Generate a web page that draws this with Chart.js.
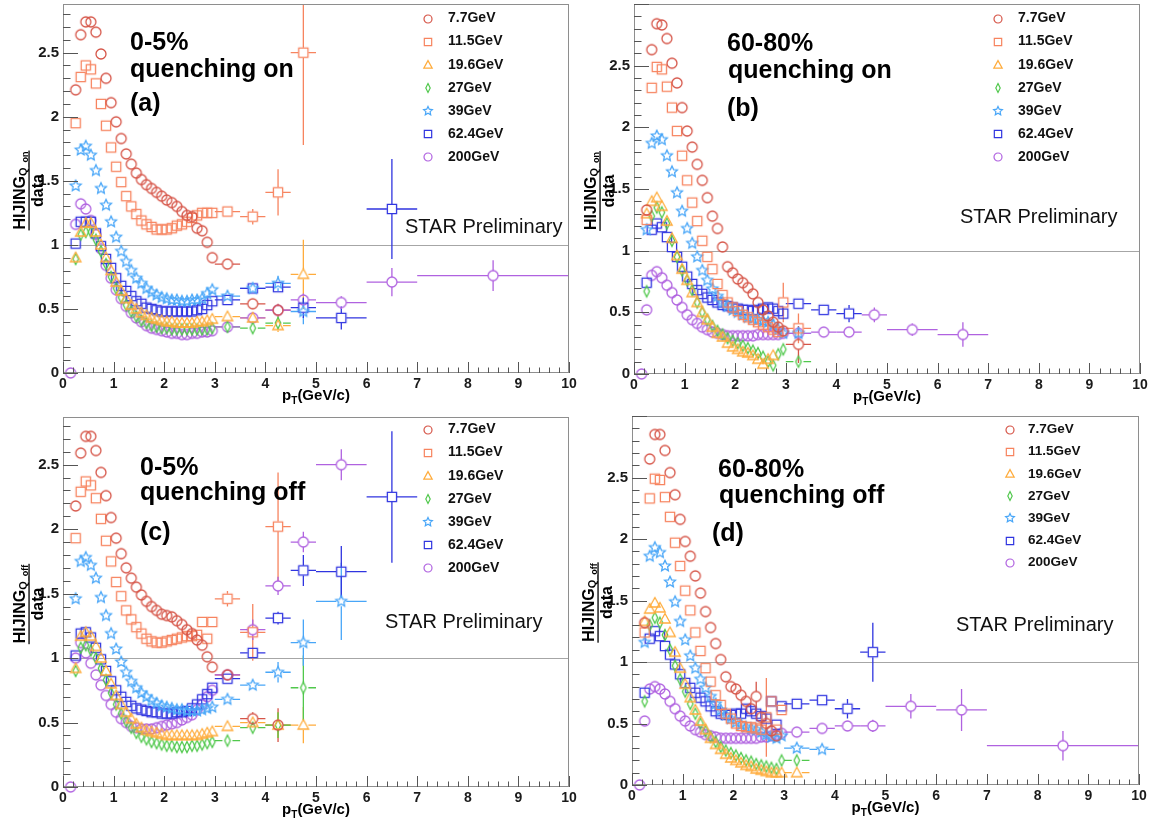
<!DOCTYPE html>
<html>
<head>
<meta charset="utf-8">
<title>HIJING / data</title>
<script src="https://cdn.jsdelivr.net/npm/chart.js@4.4.1/dist/chart.umd.min.js"></script>
<style>
html, body { margin: 0; padding: 0; background: #fff; }
#wrap { position: relative; width: 1153px; height: 827px; overflow: hidden; }
#wrap canvas { position: absolute; left: 0; top: 0; }
</style>
</head>
<body>
<div id="wrap">
  <canvas id="pa" width="1153" height="827"></canvas>
  <canvas id="pb" width="1153" height="827"></canvas>
  <canvas id="pc" width="1153" height="827"></canvas>
  <canvas id="pd" width="1153" height="827"></canvas>
</div>
<script>
// ---- bins & labels ----
const ptLow = [0.15, 0.25, 0.35, 0.45, 0.55, 0.65, 0.75, 0.85, 0.95, 1.05, 1.15, 1.25, 1.35, 1.45, 1.55,
               1.65, 1.75, 1.85, 1.95, 2.05, 2.15, 2.25, 2.35, 2.45, 2.55, 2.65, 2.75, 2.85, 2.95];
const ptHigh = [3.25, 3.75, 4.25, 4.75, 5.5, 6.5, 8.5];
const ptHighHalf = [0.25, 0.25, 0.25, 0.25, 0.5, 0.5, 1.5];
const energies = ['7.7GeV', '11.5GeV', '19.6GeV', '27GeV', '39GeV', '62.4GeV', '200GeV'];
const xTicks = [0, 1, 2, 3, 4, 5, 6, 7, 8, 9, 10];
const yTicks = [0, 0.5, 1, 1.5, 2, 2.5];

// ---- (a) 0-5%, quenching on ----
const aLow = [
  [null, 2.21, 2.64, 2.74, 2.74, 2.66, 2.49, 2.30, 2.11, 1.96, 1.83, 1.71, 1.63, 1.56, 1.51, 1.47, 1.44, 1.41, 1.38, 1.35, 1.33, 1.30, 1.26, 1.23, 1.22, 1.13, 1.11, 1.02, 0.90],
  [null, 1.95, 2.31, 2.40, 2.37, 2.26, 2.10, 1.93, 1.76, 1.61, 1.49, 1.38, 1.30, 1.24, 1.19, 1.16, 1.14, 1.12, 1.12, 1.12, 1.13, 1.15, 1.16, 1.18, 1.21, 1.23, 1.25, 1.25, 1.25],
  [null, 0.90, 1.10, 1.17, 1.17, 1.10, 1.00, 0.90, 0.80, 0.71, 0.64, 0.58, 0.53, 0.50, 0.47, 0.45, 0.43, 0.42, 0.41, 0.40, 0.40, 0.39, 0.39, 0.39, 0.39, 0.40, 0.40, 0.41, 0.42],
  [null, 0.89, 1.08, 1.10, 1.10, 1.04, 0.95, 0.85, 0.75, 0.66, 0.59, 0.53, 0.48, 0.44, 0.41, 0.39, 0.37, 0.36, 0.35, 0.35, 0.34, 0.34, 0.34, 0.34, 0.34, 0.34, 0.34, 0.34, 0.35],
  [null, 1.46, 1.74, 1.77, 1.70, 1.58, 1.44, 1.31, 1.18, 1.06, 0.95, 0.87, 0.80, 0.74, 0.70, 0.66, 0.63, 0.61, 0.59, 0.58, 0.57, 0.57, 0.56, 0.56, 0.57, 0.57, 0.58, 0.62, 0.65],
  [null, 1.01, 1.18, 1.18, 1.18, 1.09, 0.99, 0.89, 0.82, 0.74, 0.68, 0.64, 0.60, 0.56, 0.54, 0.51, 0.50, 0.49, 0.48, 0.48, 0.48, 0.48, 0.48, 0.48, 0.48, 0.49, 0.50, 0.53, 0.56],
  [0.00, 1.16, 1.32, 1.28, 1.19, 1.08, 0.97, 0.84, 0.74, 0.65, 0.58, 0.52, 0.47, 0.43, 0.40, 0.37, 0.35, 0.34, 0.33, 0.32, 0.31, 0.31, 0.30, 0.30, 0.31, 0.31, 0.32, 0.32, 0.33]
];
const aHigh = [
  [0.85, 0.54, 0.49, null, null, null, null],
  [1.26, 1.22, 1.41, 2.50, null, null, null],
  [0.44, 0.43, 0.37, 0.77, null, null, null],
  [0.36, 0.35, 0.39, null, null, null, null],
  [0.60, 0.66, 0.70, 0.48, null, null, null],
  [0.57, 0.66, 0.67, 0.51, 0.43, 1.28, null],
  [0.36, 0.43, 0.49, 0.57, 0.55, 0.71, 0.76]
];
const aHighErr = [
  [0.03, 0.04, 0.05, 0, 0, 0, 0],
  [0.03, 0.06, 0.18, 0.72, 0, 0, 0],
  [0.02, 0.03, 0.05, 0.27, 0, 0, 0],
  [0.02, 0.03, 0.05, 0, 0, 0, 0],
  [0.02, 0.03, 0.06, 0.10, 0, 0, 0],
  [0.02, 0.03, 0.04, 0.08, 0.09, 0.39, 0],
  [0.02, 0.03, 0.04, 0.05, 0.05, 0.11, 0.12]
];
const aLowErr = [];

// ---- (b) 60-80%, quenching on ----
const bLow = [
  [null, 1.33, 2.63, 2.84, 2.83, 2.72, 2.52, 2.36, 2.16, 1.97, 1.84, 1.70, 1.57, 1.43, 1.28, 1.18, 1.03, 0.87, 0.82, 0.77, 0.74, 0.70, 0.65, 0.58, 0.52, 0.47, 0.42, 0.38, 0.35],
  [null, 1.25, 2.32, 2.49, 2.47, 2.33, 2.16, 1.97, 1.77, 1.57, 1.39, 1.24, 1.08, 0.95, 0.85, 0.73, 0.64, 0.58, 0.54, 0.51, 0.48, 0.46, 0.44, 0.42, 0.40, 0.38, 0.36, 0.34, 0.58],
  [null, 1.30, 1.40, 1.43, 1.36, 1.24, 1.10, 0.96, 0.85, 0.76, 0.66, 0.58, 0.50, 0.44, 0.38, 0.33, 0.30, 0.25, 0.22, 0.20, 0.18, 0.17, 0.15, 0.12, 0.08, 0.12, 0.15, null, null],
  [null, 0.67, 1.28, 1.35, 1.31, 1.22, 1.08, 0.95, 0.84, 0.76, 0.68, 0.58, 0.50, 0.44, 0.39, 0.35, 0.32, 0.29, 0.27, 0.25, 0.23, 0.21, 0.19, 0.17, 0.14, 0.10, 0.07, 0.16, 0.20],
  [null, 1.17, 1.87, 1.93, 1.90, 1.77, 1.64, 1.47, 1.32, 1.18, 1.06, 0.95, 0.84, 0.76, 0.69, 0.63, 0.58, 0.55, 0.52, 0.50, 0.48, 0.46, 0.45, 0.44, 0.43, 0.42, 0.40, 0.36, 0.33],
  [null, 0.74, 1.17, 1.22, 1.19, 1.11, 1.03, 0.95, 0.87, 0.79, 0.73, 0.68, 0.65, 0.62, 0.60, 0.58, 0.56, 0.55, 0.54, 0.53, 0.52, 0.52, 0.51, 0.52, 0.53, 0.54, 0.53, 0.51, 0.49],
  [0.00, 0.52, 0.80, 0.83, 0.78, 0.72, 0.66, 0.60, 0.54, 0.48, 0.44, 0.41, 0.38, 0.36, 0.34, 0.33, 0.32, 0.31, 0.31, 0.31, 0.31, 0.31, 0.31, 0.32, 0.32, 0.32, 0.32, 0.32, 0.33]
];
const bHigh = [
  [0.24, null, null, null, null, null, null],
  [0.37, null, null, null, null, null, null],
  [null, null, null, null, null, null, null],
  [0.10, null, null, null, null, null, null],
  [0.33, null, null, null, null, null, null],
  [0.57, 0.52, 0.49, null, null, null, null],
  [0.33, 0.34, 0.34, 0.48, 0.36, 0.32, null]
];
const bHighErr = [
  [0.15, 0, 0, 0, 0, 0, 0],
  [0.12, 0, 0, 0, 0, 0, 0],
  [0, 0, 0, 0, 0, 0, 0],
  [0.04, 0, 0, 0, 0, 0, 0],
  [0.03, 0, 0, 0, 0, 0, 0],
  [0.03, 0.04, 0.07, 0, 0, 0, 0],
  [0.01, 0.02, 0.03, 0.06, 0.05, 0.10, 0]
];
// [energy index, low-bin index, error]
const bLowErr = [[1, 28, 0.16]];

// ---- (c) 0-5%, quenching off ----
const cLow = [
  [null, 2.18, 2.59, 2.72, 2.72, 2.61, 2.44, 2.26, 2.09, 1.93, 1.81, 1.70, 1.62, 1.55, 1.49, 1.44, 1.40, 1.37, 1.34, 1.33, 1.32, 1.29, 1.26, 1.22, 1.19, 1.14, 1.10, 1.01, 0.93],
  [null, 1.93, 2.29, 2.37, 2.34, 2.24, 2.08, 1.91, 1.75, 1.59, 1.48, 1.37, 1.30, 1.24, 1.19, 1.15, 1.13, 1.12, 1.12, 1.13, 1.14, 1.15, 1.16, 1.17, 1.17, 1.18, 1.28, 1.15, 1.28],
  [null, 0.92, 1.17, 1.20, 1.17, 1.09, 1.00, 0.90, 0.80, 0.71, 0.64, 0.58, 0.53, 0.49, 0.46, 0.44, 0.43, 0.42, 0.41, 0.40, 0.40, 0.40, 0.40, 0.40, 0.40, 0.40, 0.41, 0.42, 0.43],
  [null, 0.90, 1.08, 1.10, 1.06, 1.00, 0.92, 0.83, 0.73, 0.64, 0.57, 0.51, 0.46, 0.42, 0.39, 0.37, 0.35, 0.34, 0.33, 0.32, 0.32, 0.31, 0.31, 0.31, 0.32, 0.32, 0.33, 0.34, 0.35],
  [null, 1.46, 1.75, 1.78, 1.72, 1.62, 1.47, 1.33, 1.19, 1.07, 0.97, 0.89, 0.82, 0.77, 0.73, 0.70, 0.67, 0.65, 0.63, 0.62, 0.61, 0.60, 0.60, 0.59, 0.59, 0.59, 0.60, 0.61, 0.62],
  [null, 1.02, 1.19, 1.20, 1.16, 1.08, 0.99, 0.90, 0.82, 0.75, 0.70, 0.66, 0.63, 0.61, 0.60, 0.59, 0.58, 0.58, 0.57, 0.57, 0.57, 0.58, 0.58, 0.59, 0.61, 0.64, 0.68, 0.72, 0.77],
  [0.00, 1.00, 1.12, 1.04, 0.96, 0.87, 0.79, 0.71, 0.64, 0.58, 0.53, 0.50, 0.47, 0.46, 0.45, 0.45, 0.45, 0.46, 0.47, 0.48, 0.49, 0.50, 0.52, 0.54, 0.56, 0.60, 0.64, 0.70, 0.75]
];
const cHigh = [
  [0.87, 0.53, 0.48, null, null, null, null],
  [1.46, 1.20, 2.02, null, null, null, null],
  [0.47, 0.50, 0.48, 0.48, null, null, null],
  [0.36, 0.46, 0.48, 0.77, null, null, null],
  [0.68, 0.79, 0.89, 1.12, 1.44, null, null],
  [0.84, 1.04, 1.31, 1.68, 1.67, 2.25, null],
  [0.87, 1.22, 1.56, 1.90, 2.50, null, null]
];
const cHighErr = [
  [0.03, 0.05, 0.13, 0, 0, 0, 0],
  [0.06, 0.22, 0.42, 0, 0, 0, 0],
  [0.02, 0.04, 0.10, 0.14, 0, 0, 0],
  [0.02, 0.04, 0.10, 0.25, 0, 0, 0],
  [0.02, 0.03, 0.08, 0.18, 0.30, 0, 0],
  [0.02, 0.03, 0.05, 0.12, 0.20, 0.51, 0],
  [0.02, 0.08, 0.07, 0.08, 0.12, 0, 0]
];
const cLowErr = [];

// ---- (d) 60-80%, quenching off ----
const dLow = [
  [null, 1.32, 2.65, 2.85, 2.85, 2.72, 2.54, 2.36, 2.16, 1.98, 1.86, 1.70, 1.56, 1.41, 1.28, 1.15, 1.02, 0.88, 0.80, 0.78, 0.73, 0.68, 0.62, 0.72, 0.55, 0.50, 0.44, 0.40, null],
  [null, 1.24, 2.33, 2.49, 2.48, 2.34, 2.18, 1.97, 1.78, 1.58, 1.42, 1.24, 1.09, 0.95, 0.84, 0.73, 0.65, 0.58, 0.54, 0.50, 0.48, 0.47, 0.47, 0.46, 0.45, 0.55, 0.68, 0.45, 0.61],
  [null, 1.33, 1.43, 1.48, 1.44, 1.35, 1.24, 1.08, 0.95, 0.82, 0.71, 0.61, 0.52, 0.45, 0.38, 0.33, 0.29, 0.25, 0.22, 0.20, 0.18, 0.16, 0.15, 0.13, 0.12, 0.11, 0.10, 0.10, 0.10],
  [null, 0.68, 1.30, 1.36, 1.32, 1.22, 1.10, 0.97, 0.86, 0.76, 0.66, 0.58, 0.50, 0.44, 0.39, 0.35, 0.31, 0.28, 0.26, 0.24, 0.22, 0.20, 0.19, 0.17, 0.16, 0.15, 0.14, 0.13, 0.20],
  [null, 1.16, 1.86, 1.93, 1.89, 1.78, 1.65, 1.49, 1.33, 1.18, 1.05, 0.95, 0.86, 0.79, 0.72, 0.66, 0.61, 0.57, 0.54, 0.51, 0.49, 0.47, 0.46, 0.45, 0.43, 0.41, 0.39, 0.38, 0.40],
  [null, 0.75, 1.19, 1.25, 1.21, 1.13, 1.06, 0.98, 0.90, 0.83, 0.79, 0.75, 0.71, 0.68, 0.64, 0.60, 0.58, 0.57, 0.57, 0.58, 0.58, 0.62, 0.60, 0.58, 0.56, 0.54, 0.68, 0.49, 0.64],
  [0.00, 0.52, 0.78, 0.80, 0.78, 0.74, 0.68, 0.62, 0.56, 0.52, 0.48, 0.45, 0.43, 0.41, 0.40, 0.39, 0.38, 0.38, 0.38, 0.38, 0.38, 0.38, 0.38, 0.38, 0.39, 0.39, 0.40, 0.41, 0.42]
];
const dHigh = [
  [null, null, null, null, null, null, null],
  [null, null, null, null, null, null, null],
  [0.10, null, null, null, null, null, null],
  [0.20, null, null, null, null, null, null],
  [0.30, 0.29, null, null, null, null, null],
  [0.66, 0.69, 0.62, 1.08, null, null, null],
  [0.43, 0.46, 0.48, 0.48, 0.64, 0.61, 0.32]
];
const dHighErr = [
  [0, 0, 0, 0, 0, 0, 0],
  [0, 0, 0, 0, 0, 0, 0],
  [0.02, 0, 0, 0, 0, 0, 0],
  [0.03, 0, 0, 0, 0, 0, 0],
  [0.03, 0.04, 0, 0, 0, 0, 0],
  [0.03, 0.04, 0.08, 0.24, 0, 0, 0],
  [0.02, 0.03, 0.04, 0.05, 0.10, 0.17, 0.12]
];
const dLowErr = [[0, 23, 0.12], [1, 25, 0.32]];

// ---- styling ----
const FONT = "'Liberation Sans', Arial, Helvetica, sans-serif";
const markerShapes = ['circle', 'square', 'triangle', 'diamond', 'star', 'square', 'circle'];
const seriesColors = ['#d65548', '#f7845f', '#ffac3c', '#50c84c', '#48a6f8', '#3035e0', '#b062e0'];
const Y_W = 60;   // y axis box width
const X_H = 30;   // x axis box height

const panels = [
  { id: 'pa', low: aLow, high: aHigh, highErr: aHighErr, lowErr: aLowErr,
    lines: ['0-5%', 'quenching on', '(a)'], sub: 'on',
    area: [63, 4, 569, 373], ymax: 2.88, textX: [130, 130, 130], textY: [50, 77, 111],
    legX: 428, legTx: 448, legY: 18.5, legDy: 23.1, legFont: 14, starX: 405, starY: 233 },
  { id: 'pb', low: bLow, high: bHigh, highErr: bHighErr, lowErr: bLowErr,
    lines: ['60-80%', 'quenching on', '(b)'], sub: 'on',
    area: [634, 4, 1140, 374], ymax: 3.0, textX: [727, 728, 727], textY: [51, 78, 116],
    legX: 998, legTx: 1018, legY: 18.5, legDy: 23.1, legFont: 14, starX: 960, starY: 223 },
  { id: 'pc', low: cLow, high: cHigh, highErr: cHighErr, lowErr: cLowErr,
    lines: ['0-5%', 'quenching off', '(c)'], sub: 'off',
    area: [63, 417, 569, 787], ymax: 2.87, textX: [140, 140, 140], textY: [475, 500, 540],
    legX: 428, legTx: 448, legY: 429.5, legDy: 23.1, legFont: 14, starX: 385, starY: 628 },
  { id: 'pd', low: dLow, high: dHigh, highErr: dHighErr, lowErr: dLowErr,
    lines: ['60-80%', 'quenching off', '(d)'], sub: 'off',
    area: [632, 416, 1139, 785], ymax: 3.0, textX: [718, 719, 712], textY: [477, 503, 541],
    legX: 1010, legTx: 1028, legY: 429.5, legDy: 22.2, legFont: 13.5, starX: 956, starY: 631 }
];

// open ROOT-style marker drawn into a small canvas, used as pointStyle
function markerCanvas(shape, color, r, lw) {
  const s = Math.ceil(2 * r + 2 * lw + 3);
  const c = document.createElement('canvas');
  c.width = s; c.height = s;
  const g = c.getContext('2d');
  const m = s / 2;
  g.strokeStyle = color;
  g.lineWidth = lw;
  g.beginPath();
  if (shape === 'circle') {
    g.arc(m, m, r, 0, Math.PI * 2);
  } else if (shape === 'square') {
    g.rect(m - r * 0.92, m - r * 0.92, r * 1.84, r * 1.84);
  } else if (shape === 'triangle') {
    g.moveTo(m, m - r * 1.1);
    g.lineTo(m + r * 1.05, m + r * 0.8);
    g.lineTo(m - r * 1.05, m + r * 0.8);
    g.closePath();
  } else if (shape === 'diamond') {
    g.moveTo(m, m - r * 1.1);
    g.lineTo(m + r * 0.55, m);
    g.lineTo(m, m + r * 1.1);
    g.lineTo(m - r * 0.55, m);
    g.closePath();
  } else if (shape === 'star') {
    for (let k = 0; k < 10; k++) {
      const ang = -Math.PI / 2 + k * Math.PI / 5;
      const rr = k % 2 ? r * 0.55 : r * 1.15;
      const px = m + rr * Math.cos(ang), py = m + rr * Math.sin(ang);
      if (k === 0) g.moveTo(px, py); else g.lineTo(px, py);
    }
    g.closePath();
  }
  g.stroke();
  return c;
}

const pointMarkers = markerShapes.map((s, i) => markerCanvas(s, seriesColors[i], 5, 1.3));
const legendMarkers = markerShapes.map((s, i) => markerCanvas(s, seriesColors[i], 4, 1.2));

// draw a run of text pieces (for sub/superscripts), returns total width
function drawRich(ctx, parts, x, y, align) {
  let w = 0;
  parts.forEach(p => {
    ctx.font = `bold ${p.size}px ${FONT}`;
    p.w = ctx.measureText(p.t).width;
    w += p.w;
  });
  let cx = align === 'center' ? x - w / 2 : x;
  ctx.textAlign = 'left';
  parts.forEach(p => {
    ctx.font = `bold ${p.size}px ${FONT}`;
    ctx.fillText(p.t, cx, y + (p.dy || 0));
    cx += p.w;
  });
  return w;
}

const rootStyle = {
  id: 'rootStyle',
  beforeDatasetsDraw(chart) {
    const { ctx, chartArea: a, scales: { x, y } } = chart;
    ctx.save();
    // reference line at ratio = 1
    ctx.strokeStyle = '#a6a6a6';
    ctx.lineWidth = 1;
    const y1 = Math.round(y.getPixelForValue(1)) + 0.5;
    ctx.beginPath();
    ctx.moveTo(a.left, y1);
    ctx.lineTo(a.right, y1);
    ctx.stroke();

    // error bars, stopping at the open marker
    ctx.beginPath();
    ctx.rect(a.left, a.top, a.right - a.left, a.bottom - a.top);
    ctx.clip();
    const gap = 5;
    chart.data.datasets.forEach(ds => {
      ctx.strokeStyle = ds.errColor;
      ctx.lineWidth = 1.3;
      ds.data.forEach(p => {
        const px = x.getPixelForValue(p.x), py = y.getPixelForValue(p.y);
        ctx.beginPath();
        if (p.ex) {
          const l = x.getPixelForValue(p.x - p.ex), r = x.getPixelForValue(p.x + p.ex);
          ctx.moveTo(l, py); ctx.lineTo(px - gap, py);
          ctx.moveTo(px + gap, py); ctx.lineTo(r, py);
        }
        if (p.ey) {
          const t = y.getPixelForValue(p.y + p.ey), b = y.getPixelForValue(p.y - p.ey);
          if (t < py - gap) { ctx.moveTo(px, t); ctx.lineTo(px, py - gap); }
          if (b > py + gap) { ctx.moveTo(px, py + gap); ctx.lineTo(px, b); }
        }
        ctx.stroke();
      });
    });
    ctx.restore();
  },
  afterDraw(chart, args, opts) {
    const { ctx, chartArea: a, scales: { x, y } } = chart;
    const P = opts.panel;
    ctx.save();

    // frame
    ctx.strokeStyle = '#8e8e8e';
    ctx.lineWidth = 1;
    ctx.strokeRect(a.left + 0.5, a.top + 0.5, a.right - a.left - 1, a.bottom - a.top - 1);

    // inward ticks
    ctx.strokeStyle = '#555';
    ctx.beginPath();
    const yMinor = Math.floor(P.ymax * 10 + 1e-6);
    for (let k = 0; k <= yMinor; k++) {
      const py = Math.round(y.getPixelForValue(k / 10)) + 0.5;
      const len = k % 5 === 0 ? 15 : 7.5;
      ctx.moveTo(a.left, py); ctx.lineTo(a.left + len, py);
    }
    for (let k = 0; k <= 50; k++) {
      const px = Math.round(x.getPixelForValue(k / 5)) + 0.5;
      const len = k % 5 === 0 ? 11 : 5.5;
      ctx.moveTo(px, a.bottom); ctx.lineTo(px, a.bottom - len);
    }
    ctx.stroke();

    ctx.fillStyle = '#000';
    ctx.textBaseline = 'alphabetic';

    // panel caption
    ctx.font = `bold 25px ${FONT}`;
    ctx.textAlign = 'left';
    P.lines.forEach((t, i) => ctx.fillText(t, P.textX[i], P.textY[i]));

    // legend
    ctx.font = `bold ${P.legFont}px ${FONT}`;
    ctx.textBaseline = 'middle';
    energies.forEach((name, i) => {
      const ly = P.legY + i * P.legDy;
      const m = legendMarkers[i];
      ctx.drawImage(m, Math.round(P.legX - m.width / 2), Math.round(ly - m.height / 2));
      ctx.fillStyle = '#111';
      ctx.fillText(name, P.legTx, ly);
    });

    // preliminary tag
    ctx.textBaseline = 'alphabetic';
    ctx.font = `20px ${FONT}`;
    ctx.fillStyle = '#111';
    ctx.fillText('STAR Preliminary', P.starX, P.starY);

    // x title
    ctx.fillStyle = '#000';
    drawRich(ctx, [
      { t: 'p', size: 15 },
      { t: 'T', size: 10, dy: 4 },
      { t: '(GeV/c)', size: 15 }
    ], (a.left + a.right) / 2, a.bottom + 27, 'center');

    // y title: HIJING_{Q_on} over data
    ctx.save();
    ctx.translate(a.left - 34, (a.top + a.bottom) / 2 + 2);
    ctx.rotate(-Math.PI / 2);
    const w = drawRich(ctx, [
      { t: 'HIJING', size: 16 },
      { t: 'Q', size: 11, dy: 2 },
      { t: '_' + P.sub, size: 9, dy: 3 }
    ], 0, -4, 'center');
    ctx.fillRect(-w / 2 - 1, -0.6, w + 2, 1.3);
    ctx.font = `bold 16px ${FONT}`;
    ctx.textAlign = 'center';
    ctx.fillText('data', 0, 14);
    ctx.restore();

    ctx.restore();
  }
};

function buildPanel(P) {
  const datasets = energies.map((name, s) => {
    const pts = [];
    P.low[s].forEach((v, i) => {
      if (v !== null) pts.push({ x: ptLow[i], y: v, ex: 0, ey: 0 });
    });
    P.lowErr.filter(e => e[0] === s).forEach(e => {
      const p = pts.find(q => q.x === ptLow[e[1]]);
      if (p) p.ey = e[2];
    });
    P.high[s].forEach((v, i) => {
      if (v !== null) pts.push({ x: ptHigh[i], y: v, ex: ptHighHalf[i], ey: P.highErr[s][i] });
    });
    return {
      label: name,
      data: pts,
      pointStyle: pointMarkers[s],
      pointRadius: 5,
      showLine: false,
      clip: false,
      errColor: seriesColors[s]
    };
  });

  const tickFont = { family: FONT, weight: 'bold', size: 14 };
  new Chart(document.getElementById(P.id), {
    type: 'scatter',
    data: { datasets },
    options: {
      responsive: false,
      animation: false,
      devicePixelRatio: 1,
      events: [],
      layout: {
        autoPadding: false,
        padding: {
          left: P.area[0] - Y_W,
          top: P.area[1],
          right: 1153 - P.area[2],
          bottom: 827 - P.area[3] - X_H
        }
      },
      plugins: {
        legend: { display: false },
        tooltip: { enabled: false },
        rootStyle: { panel: P }
      },
      scales: {
        x: {
          type: 'linear', min: 0, max: 10,
          grid: { display: false, drawTicks: false },
          border: { display: false },
          ticks: { font: tickFont, color: '#1a1a1a', padding: 3, maxRotation: 0, autoSkip: false,
                   callback: v => String(v) },
          afterBuildTicks: s => { s.ticks = xTicks.map(v => ({ value: v })); },
          afterFit: s => { s.height = X_H; s.paddingLeft = 0; s.paddingRight = 0; }
        },
        y: {
          type: 'linear', min: 0, max: P.ymax,
          grid: { display: false, drawTicks: false },
          border: { display: false },
          ticks: { font: { family: FONT, weight: 'bold', size: 15 }, color: '#1a1a1a', padding: 4,
                   autoSkip: false, callback: v => String(v) },
          afterBuildTicks: s => { s.ticks = yTicks.map(v => ({ value: v })); },
          afterFit: s => { s.width = Y_W; s.paddingTop = 0; s.paddingBottom = 0; }
        }
      }
    },
    plugins: [rootStyle]
  });
}

panels.forEach(buildPanel);
</script>
</body>
</html>
